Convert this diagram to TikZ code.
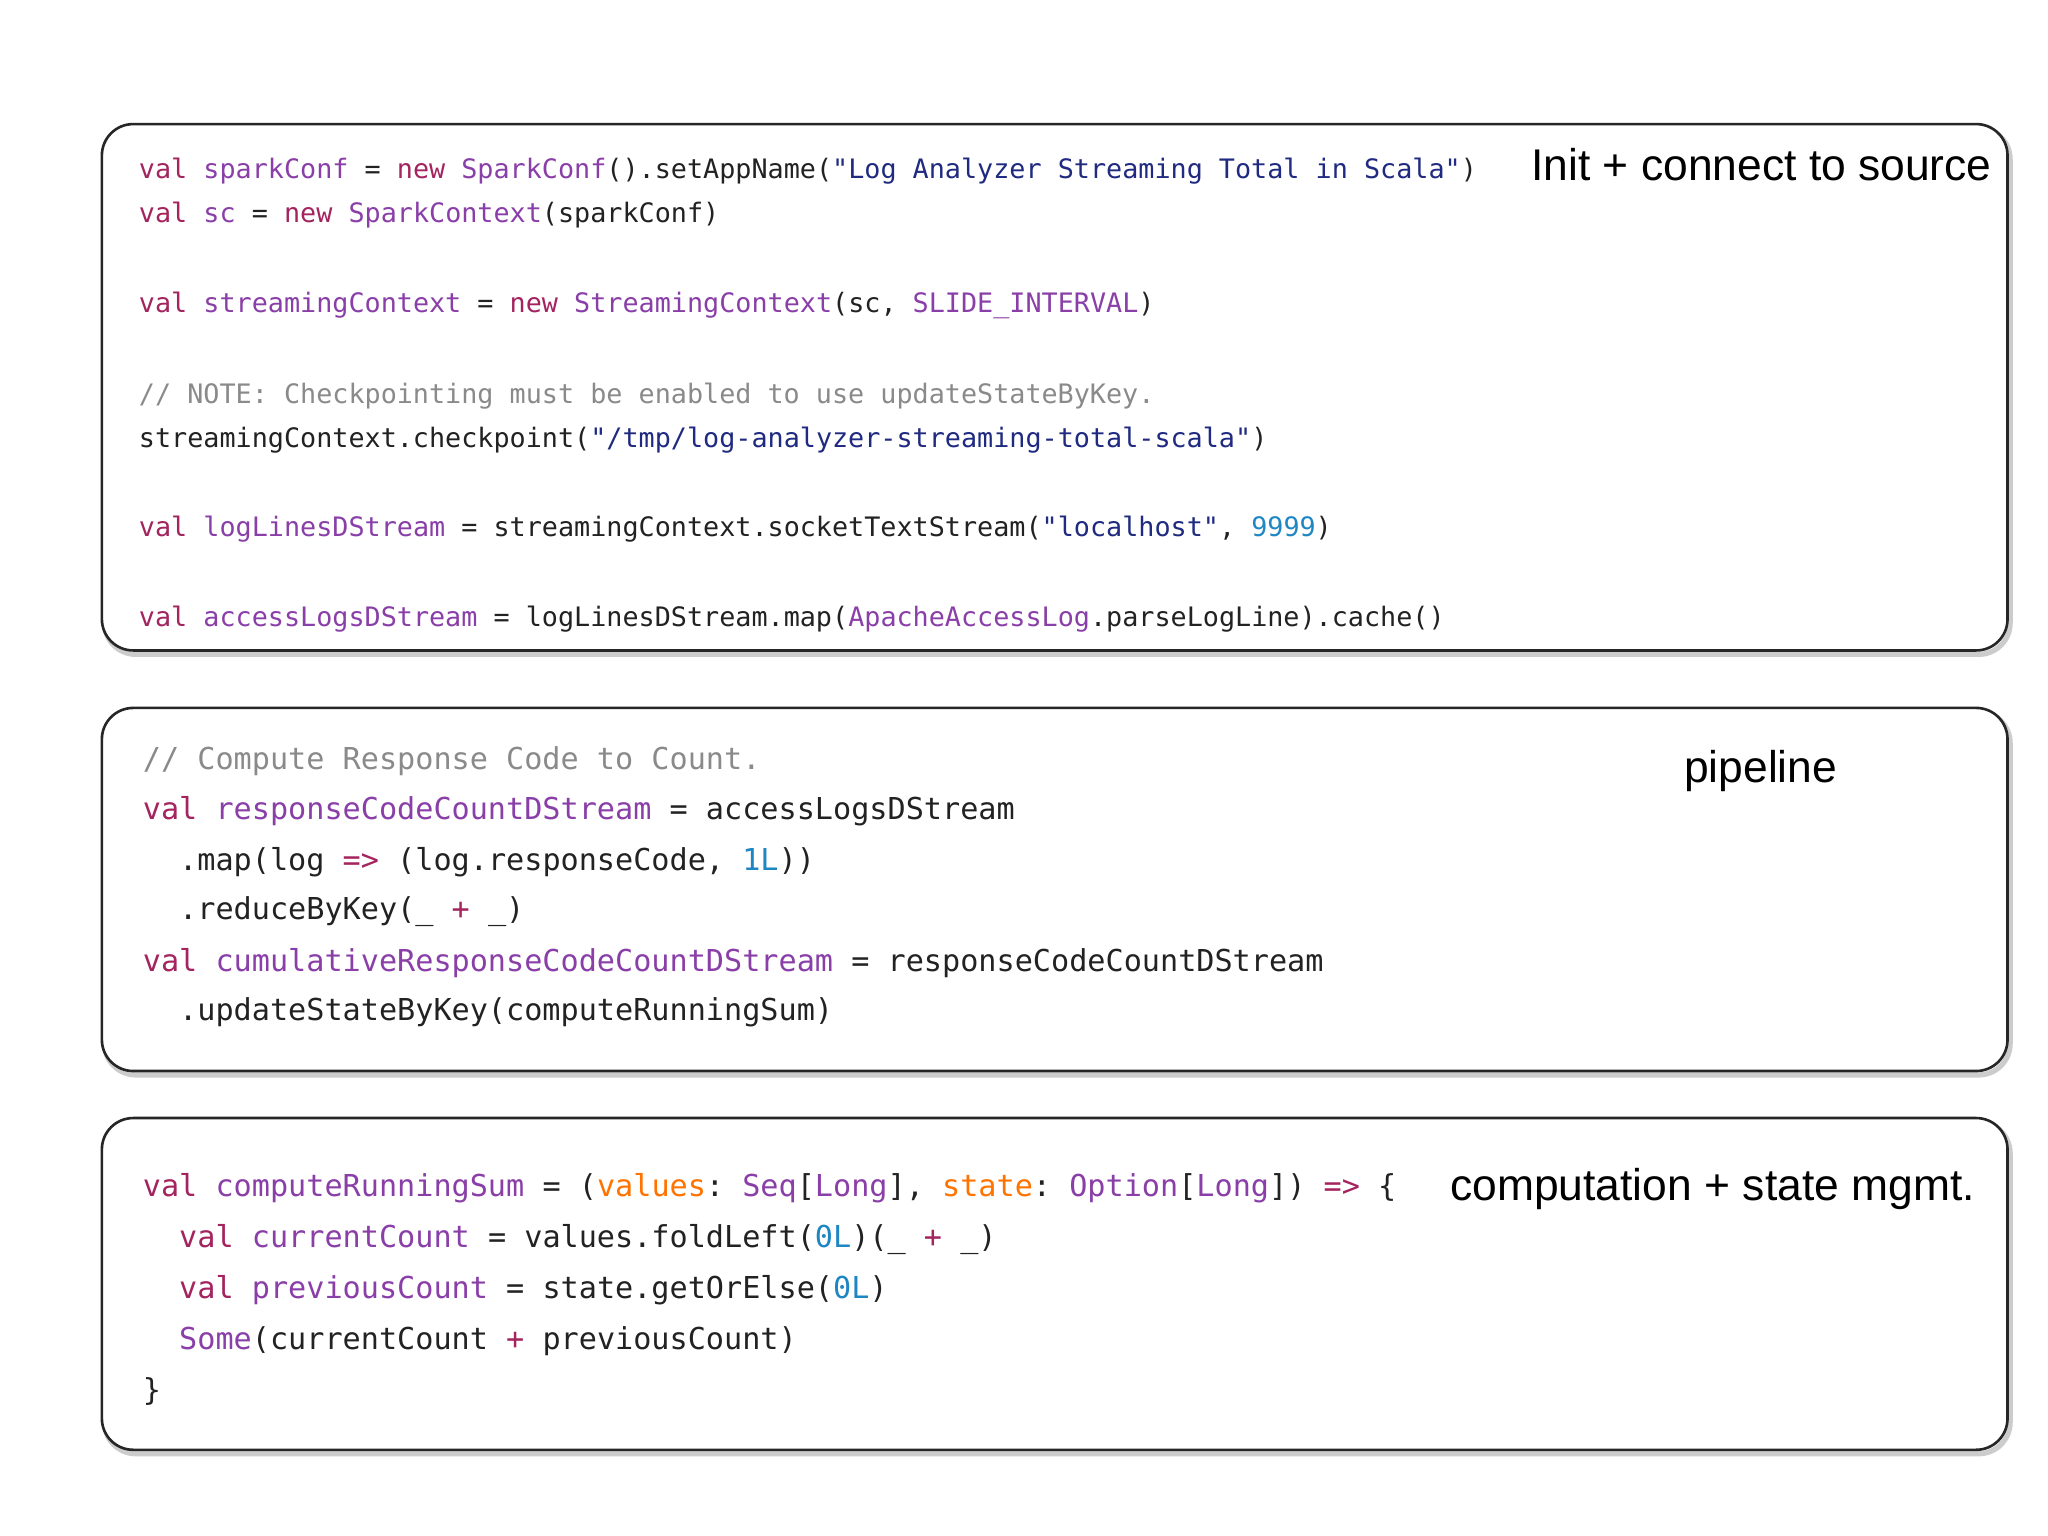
\documentclass[tikz,border=0pt]{standalone}
\usepackage{fontspec}
\setmainfont{Liberation Sans}
\setmonofont{DejaVu Sans Mono}
\definecolor{kwc}{HTML}{A3245E}
\definecolor{idc}{HTML}{8A3FA8}
\definecolor{stc}{HTML}{1F2A80}
\definecolor{nmc}{HTML}{1F86C4}
\definecolor{cmc}{HTML}{8A8A8A}
\definecolor{txc}{HTML}{222222}
\newcommand{\kw}[1]{\textcolor{kwc}{#1}}
\newcommand{\idn}[1]{\textcolor{idc}{#1}}
\newcommand{\stn}[1]{\textcolor{stc}{#1}}
\newcommand{\nm}[1]{\textcolor{nmc}{#1}}
\newcommand{\cmn}[1]{\textcolor{cmc}{#1}}
\tikzset{
  box/.style={draw=black!85,line width=1pt,rounded corners=12pt},
  shadowbox/.style={draw=black!20,line width=2pt,rounded corners=12pt},
  codeA/.style={anchor=west,inner sep=0pt,text=txc,font=\ttfamily\fontsize{10.25}{12}\selectfont},
  codeB/.style={anchor=west,inner sep=0pt,text=txc,font=\ttfamily\fontsize{11.55}{14}\selectfont},
  lbl/.style={anchor=west,inner sep=0pt,font=\fontsize{17}{20}\selectfont}
}
\begin{document}
\begin{tikzpicture}[x=0.5pt,y=-0.5pt]
\useasboundingbox[fill=white] (0,0) rectangle (1568,1176);
\foreach \a/\b in {95/498,542/820,856/1110}{
  \draw[shadowbox] (80,\a+3) rectangle (1539,\b+3);
  \draw[box,fill=white] (78,\a) rectangle (1537,\b);
}
% box 1
\node[codeA] (a1) at (106,131) {\kw{val} \idn{sparkConf} = \kw{new} \idn{SparkConf}().setAppName(\stn{"Log Analyzer Streaming Total in Scala"})};
\node[codeA] (a2) at (106,165) {\kw{val} \idn{sc} = \kw{new} \idn{SparkContext}(sparkConf)};
\node[codeA] (a3) at (106,234) {\kw{val} \idn{streamingContext} = \kw{new} \idn{StreamingContext}(sc, \idn{SLIDE\_INTERVAL})};
\node[codeA] (a4) at (106,303) {\cmn{// NOTE: Checkpointing must be enabled to use updateStateByKey.}};
\node[codeA] (a5) at (106,337) {streamingContext.checkpoint(\stn{"/tmp/log-analyzer-streaming-total-scala"})};
\node[codeA] (a6) at (106,405) {\kw{val} \idn{logLinesDStream} = streamingContext.socketTextStream(\stn{"localhost"}, \nm{9999})};
\node[codeA] (a7) at (106,474) {\kw{val} \idn{accessLogsDStream} = logLinesDStream.map(\idn{ApacheAccessLog}.parseLogLine).cache()};
\node[lbl] (l1) at (1172,126) {Init + connect to source};
% box 2
\node[codeB] (b1) at (109,583) {\cmn{// Compute Response Code to Count.}};
\node[codeB] (b2) at (109,621) {\kw{val} \idn{responseCodeCountDStream} = accessLogsDStream};
\node[codeB] (b3) at (109,660) {\ \ .map(log \kw{=>} (log.responseCode, \nm{1L}))};
\node[codeB] (b4) at (109,698) {\ \ .reduceByKey(\_ \kw{+} \_)};
\node[codeB] (b5) at (109,737) {\kw{val} \idn{cumulativeResponseCodeCountDStream} = responseCodeCountDStream};
\node[codeB] (b6) at (109,775) {\ \ .updateStateByKey(computeRunningSum)};
\node[lbl] (l2) at (1289,590) {pipeline};
% box 3
\node[codeB] (c1) at (109,910) {\kw{val} \idn{computeRunningSum} = (\textcolor{orange!90!red}{values}: \idn{Seq}[\idn{Long}], \textcolor{orange!90!red}{state}: \idn{Option}[\idn{Long}]) \kw{=>} \{};
\node[codeB] (c2) at (109,949) {\ \ \kw{val} \idn{currentCount} = values.foldLeft(\nm{0L})(\_ \kw{+} \_)};
\node[codeB] (c3) at (109,988) {\ \ \kw{val} \idn{previousCount} = state.getOrElse(\nm{0L})};
\node[codeB] (c4) at (109,1027) {\ \ \idn{Some}(currentCount \kw{+} previousCount)};
\node[codeB] (c5) at (109,1065) {\}};
\node[lbl] (l3) at (1110,910) {computation + state mgmt.};
\end{tikzpicture}
\end{document}
